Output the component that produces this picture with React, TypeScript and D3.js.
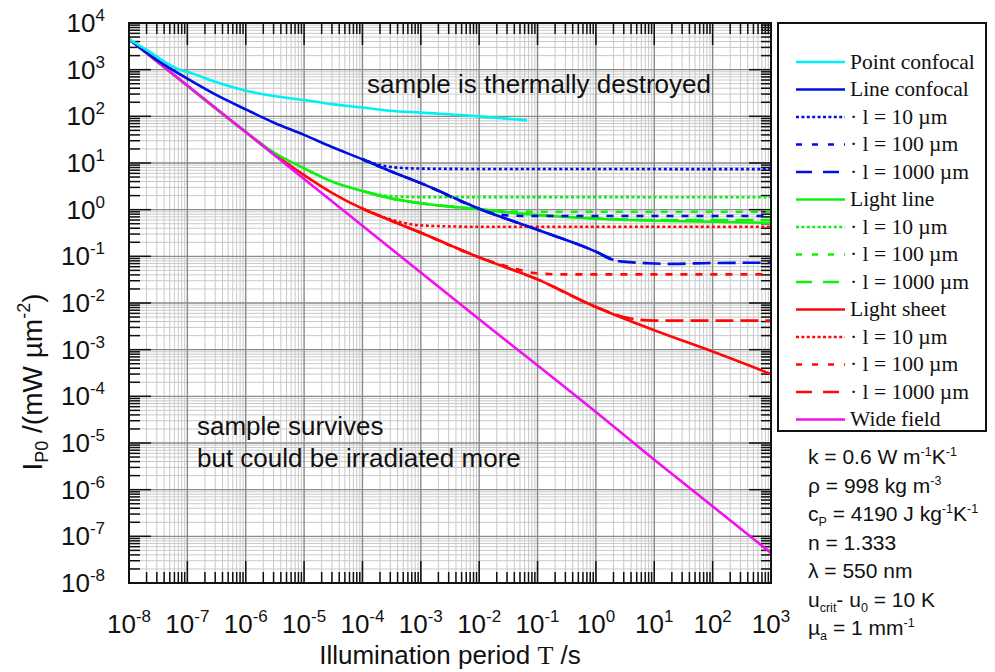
import React from 'react';
import * as d3 from 'd3';

// [T (s), I_P0 (mW/um^2)]
const pointConfocal = [[1e-8, 4500], [2e-8, 2650], [5e-8, 1260], [7e-8, 1020], [1e-7, 900], [3e-7, 550], [1e-6, 355], [3e-6, 273], [1e-5, 224], [3e-5, 183], [1e-4, 155], [3e-4, 132], [1e-3, 120], [1e-2, 100], [0.066, 82]];
const lineConfocal = [[1e-8, 4500], [2e-8, 2300], [3e-8, 1620], [1e-7, 640], [3e-7, 295], [1e-6, 141], [3e-6, 74], [1e-5, 40], [3e-5, 22], [1e-4, 12], [3e-4, 6.7], [1e-3, 3.7], [1e-2, 1.05], [1e-1, 0.37], [1, 0.126], [2, 0.083]];
const lineConf10 = [[1e-4, 12], [2e-4, 9], [5e-4, 7.8], [1e-3, 7.6], [1e-2, 7.45], [1e3, 7.4]];
const lineConf100 = [[1e-4, 12], [3e-4, 6.7], [1e-3, 3.7], [1e-2, 1.05], [2e-2, 0.8], [4e-2, 0.74], [1e-1, 0.73], [1e3, 0.73]];
const lineConf1000 = [[1e-4, 12], [3e-4, 6.7], [1e-3, 3.7], [1e-2, 1.05], [1e-1, 0.37], [1, 0.126], [2, 0.083], [3, 0.077], [8, 0.071], [20, 0.069], [100, 0.072], [1e3, 0.073]];
const lightLine = [[1e-8, 4500], [1e-7, 450], [1e-6, 46], [3e-6, 17], [1e-5, 7.7], [3e-5, 4.0], [1e-4, 2.5], [3e-4, 1.75], [1e-3, 1.37], [1e-2, 1.02], [1e-1, 0.77], [1, 0.64], [10, 0.58], [100, 0.55], [1e3, 0.52]];
const lightLine10 = [[1e-4, 2.5], [3e-4, 1.95], [1e-3, 1.86], [1e3, 1.85]];
const lightLine100 = [[1e-4, 2.5], [3e-4, 1.75], [1e-3, 1.37], [1e-2, 1.02], [3e-2, 0.92], [1e-1, 0.9], [1e3, 0.9]];
const lightLine1000 = [[1e-4, 2.5], [3e-4, 1.75], [1e-3, 1.37], [1e-2, 1.02], [1e-1, 0.77], [1, 0.65], [10, 0.6], [1e3, 0.6]];
const lightSheet = [[1e-8, 4500], [1e-7, 450], [1e-6, 46], [3e-6, 16], [1e-5, 5.5], [3e-5, 2.3], [1e-4, 1.05], [3e-4, 0.59], [1e-3, 0.32], [1e-2, 0.095], [1e-1, 0.032], [1, 0.0082], [10, 0.0026], [100, 0.00091], [1e3, 0.0003]];
const lightSheet10 = [[1e-4, 1.05], [3e-4, 0.62], [1e-3, 0.46], [1e-2, 0.43], [1e3, 0.43]];
const lightSheet100 = [[1e-4, 1.05], [3e-4, 0.59], [1e-3, 0.32], [1e-2, 0.095], [4e-2, 0.055], [1e-1, 0.043], [3e-1, 0.041], [1e3, 0.041]];
const lightSheet1000 = [[1e-4, 1.05], [3e-4, 0.59], [1e-3, 0.32], [1e-2, 0.095], [1e-1, 0.032], [1, 0.0082], [3, 0.0050], [10, 0.0042], [1e3, 0.0042]];
const wideField = [[1e-8, 4500], [1e-6, 46], [1e-4, 0.45], [1e-2, 4.5e-3], [1, 4.6e-5], [10, 4.4e-6], [1e3, 4.4e-8]];

const xDecades = [-8, -7, -6, -5, -4, -3, -2, -1, 0, 1, 2, 3];
const yDecades = [-8, -7, -6, -5, -4, -3, -2, -1, 0, 1, 2, 3, 4];

const CYAN = '#00f0f5';
const BLUE = '#0010e0';
const GREEN = '#10f010';
const RED = '#ff0808';
const MAGENTA = '#f010f0';

const DOT = '3,2.5';
const SHORT = '7,8';
const LONG = '18,7';

const series = [
  { label: 'Point confocal', data: pointConfocal, color: CYAN, dash: null, ldash: null },
  { label: 'Line confocal', data: lineConfocal, color: BLUE, dash: null, ldash: null },
  { label: '· l = 10 µm', data: lineConf10, color: BLUE, dash: DOT, ldash: '3,2.4' },
  { label: '· l = 100 µm', data: lineConf100, color: BLUE, dash: SHORT, ldash: '6,10' },
  { label: '· l = 1000 µm', data: lineConf1000, color: BLUE, dash: LONG, ldash: '16,11' },
  { label: 'Light line', data: lightLine, color: GREEN, dash: null, ldash: null },
  { label: '· l = 10 µm', data: lightLine10, color: GREEN, dash: DOT, ldash: '3,2.4' },
  { label: '· l = 100 µm', data: lightLine100, color: GREEN, dash: SHORT, ldash: '6,10' },
  { label: '· l = 1000 µm', data: lightLine1000, color: GREEN, dash: LONG, ldash: '16,11' },
  { label: 'Light sheet', data: lightSheet, color: RED, dash: null, ldash: null },
  { label: '· l = 10 µm', data: lightSheet10, color: RED, dash: DOT, ldash: '3,2.4' },
  { label: '· l = 100 µm', data: lightSheet100, color: RED, dash: SHORT, ldash: '6,10' },
  { label: '· l = 1000 µm', data: lightSheet1000, color: RED, dash: LONG, ldash: '16,11' },
  { label: 'Wide field', data: wideField, color: MAGENTA, dash: null, ldash: null },
];
// order of drawing in the plot
const drawOrder = [9, 5, 13, 1, 0, 10, 11, 12, 6, 7, 8, 2, 3, 4];

const params = [
  [['k = 0.6 W m'], ['-1', 'sup'], ['K'], ['-1', 'sup']],
  [['ρ = 998 kg m'], ['-3', 'sup']],
  [['c'], ['P', 'sub'], [' = 4190 J kg'], ['-1', 'sup'], ['K'], ['-1', 'sup']],
  [['n = 1.333']],
  [['λ = 550 nm']],
  [['u'], ['crit', 'sub'], ['- u'], ['0', 'sub'], [' = 10 K']],
  [['µ'], ['a', 'sub'], [' = 1 mm'], ['-1', 'sup']],
];

const L = 129, R = 771, T = 23, B = 583;

function Rich({ segs, x, y, size, small, up, down, anchor = 'start', family, transform }) {
  let cur = 0;
  return (
    <text x={x} y={y} fontSize={size} fontFamily={family} textAnchor={anchor} transform={transform} fill="#111">
      {segs.map(([t, k], i) => {
        const target = k === 'sup' ? -up : k === 'sub' ? down : 0;
        const dy = target - cur;
        cur = target;
        return (
          <tspan key={i} dy={dy} fontSize={k ? small : size}>{t}</tspan>
        );
      })}
    </text>
  );
}

export default function App() {
  const x = d3.scaleLog().domain([1e-8, 1e3]).range([L, R]);
  const y = d3.scaleLog().domain([1e-8, 1e4]).range([B, T]);
  const line = d3.line().x(d => x(d[0])).y(d => y(d[1])).curve(d3.curveMonotoneX);

  const xMinor = [];
  xDecades.slice(0, -1).forEach(d => { for (let k = 2; k <= 9; k++) xMinor.push(k * Math.pow(10, d)); });
  const yMinor = [];
  yDecades.slice(0, -1).forEach(d => { for (let k = 2; k <= 9; k++) yMinor.push(k * Math.pow(10, d)); });
  const xMajor = xDecades.map(d => Math.pow(10, d));
  const yMajor = yDecades.map(d => Math.pow(10, d));

  const sans = 'Liberation Sans, Arial, sans-serif';
  const serif = 'Liberation Serif, Times New Roman, serif';

  return (
    <svg width={995} height={672} style={{ position: 'absolute', left: 0, top: 0 }}>
      <rect width={995} height={672} fill="#fff" />
      <defs>
        <clipPath id="plot"><rect x={L} y={T} width={R - L} height={B - T} /></clipPath>
      </defs>
      {/* grid */}
      <g>
        {xMinor.map((v, i) => <line key={'xm' + i} x1={x(v)} x2={x(v)} y1={T} y2={B} stroke="#c9c9c9" strokeWidth={1} />)}
        {yMinor.map((v, i) => <line key={'ym' + i} y1={y(v)} y2={y(v)} x1={L} x2={R} stroke="#c9c9c9" strokeWidth={1} />)}
        {xMajor.map((v, i) => <line key={'xM' + i} x1={x(v)} x2={x(v)} y1={T} y2={B} stroke="#8a8a8a" strokeWidth={1.4} />)}
        {yMajor.map((v, i) => <line key={'yM' + i} y1={y(v)} y2={y(v)} x1={L} x2={R} stroke="#8a8a8a" strokeWidth={1.4} />)}
      </g>
      {/* ticks, inward on all sides */}
      <g stroke="#111" strokeWidth={1.5}>
        {xMinor.map((v, i) => (
          <g key={'txm' + i}>
            <line x1={x(v)} x2={x(v)} y1={B} y2={B - 11} />
            <line x1={x(v)} x2={x(v)} y1={T} y2={T + 11} />
          </g>
        ))}
        {xMajor.map((v, i) => (
          <g key={'txM' + i}>
            <line x1={x(v)} x2={x(v)} y1={B} y2={B - 22} />
            <line x1={x(v)} x2={x(v)} y1={T} y2={T + 22} />
          </g>
        ))}
        {yMinor.map((v, i) => (
          <g key={'tym' + i}>
            <line y1={y(v)} y2={y(v)} x1={L} x2={L + 11} />
            <line y1={y(v)} y2={y(v)} x1={R} x2={R - 10} />
          </g>
        ))}
        {yMajor.map((v, i) => (
          <g key={'tyM' + i}>
            <line y1={y(v)} y2={y(v)} x1={L} x2={L + 22} />
            <line y1={y(v)} y2={y(v)} x1={R} x2={R - 22} />
          </g>
        ))}
      </g>
      {/* curves */}
      <g clipPath="url(#plot)" fill="none">
        {drawOrder.map(i => {
          const s = series[i];
          return (
            <path key={i} d={line(s.data)} stroke={s.color} strokeWidth={2.6}
              strokeDasharray={s.dash || undefined} strokeLinecap="butt" />
          );
        })}
      </g>
      <rect x={L} y={T} width={R - L} height={B - T} fill="none" stroke="#111" strokeWidth={2} />

      {/* tick labels */}
      {yDecades.map(d => (
        <Rich key={'yl' + d} segs={[['10'], [String(d), 'sup']]} x={105} y={y(Math.pow(10, d)) + 9}
          size={26} small={17} up={11} down={0} anchor="end" family={sans} />
      ))}
      {xDecades.map(d => (
        <Rich key={'xl' + d} segs={[['10'], [String(d), 'sup']]} x={x(Math.pow(10, d))} y={633}
          size={26} small={17} up={11} down={0} anchor="middle" family={sans} />
      ))}

      {/* axis titles */}
      <text x={450} y={664} textAnchor="middle" fontSize={26} fontFamily={sans} fill="#111">
        Illumination period <tspan fontFamily={serif}>T</tspan> /s
      </text>
      <Rich segs={[['I'], ['P0', 'sub'], [' /(mW µm'], ['-2', 'sup'], [')']]} x={0} y={0}
        size={28} small={18} up={12} down={6} anchor="middle" family={sans}
        transform="translate(42,382) rotate(-90)" />

      {/* annotations */}
      <text x={367} y={93} fontSize={26} fontFamily={sans} fill="#111">sample is thermally destroyed</text>
      <text x={197} y={435} fontSize={26} fontFamily={sans} fill="#111">sample survives</text>
      <text x={197} y={467} fontSize={26} fontFamily={sans} fill="#111">but could be irradiated more</text>

      {/* legend */}
      <rect x={778} y={23} width={208} height={408} fill="#fff" stroke="#111" strokeWidth={2} />
      {series.map((s, i) => {
        const ly = 62 + i * 27.5;
        return (
          <g key={'lg' + i}>
            <line x1={796} x2={845} y1={ly} y2={ly} stroke={s.color} strokeWidth={2.6} strokeDasharray={s.ldash || undefined} />
            <text x={850} y={ly + 6.5} fontSize={21.5} fontFamily={serif} fill="#111">{s.label}</text>
          </g>
        );
      })}

      {/* parameters */}
      {params.map((segs, i) => (
        <Rich key={'p' + i} segs={segs} x={808} y={464 + i * 28.5} size={21} small={12.5} up={8} down={5} family={sans} />
      ))}
    </svg>
  );
}
